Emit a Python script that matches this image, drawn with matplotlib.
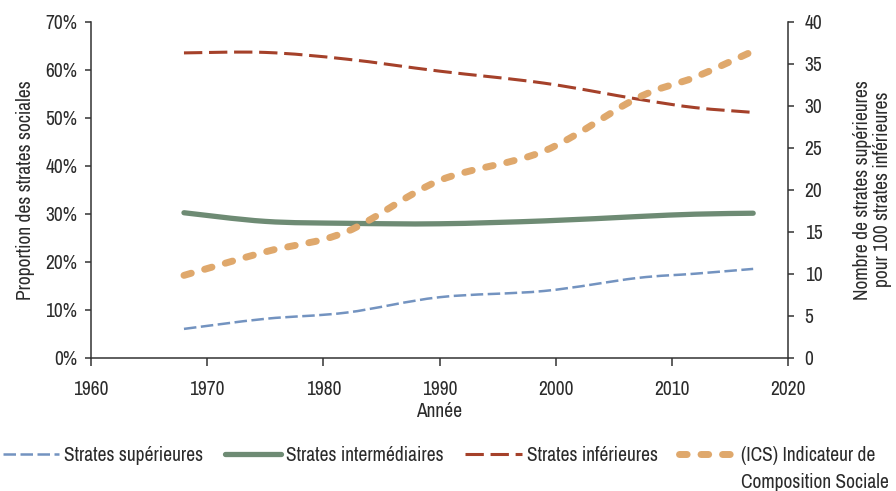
import matplotlib
matplotlib.use("Agg")
import matplotlib.pyplot as plt
from matplotlib.path import Path
from matplotlib.patches import PathPatch
from matplotlib.lines import Line2D
from matplotlib.ticker import FuncFormatter
from matplotlib import font_manager

# census years and shares
years = [1968, 1975, 1982, 1990, 1999, 2007, 2012, 2017]
sup = [6.0, 8.1, 9.4, 12.6, 13.9, 16.6, 17.5, 18.5]
inter = [30.2, 28.4, 28.0, 27.9, 28.5, 29.4, 29.9, 30.1]
inf = [63.5, 63.6, 62.2, 59.7, 57.2, 53.9, 52.1, 51.1]
ics = [9.8, 12.6, 15.0, 21.1, 24.6, 30.9, 33.4, 36.5]

labels = ["Strates supérieures", "Strates intermédiaires",
          "Strates inférieures", "(ICS) Indicateur de"]

# the reference uses a condensed face; take one if the system has it
names = {f.name for f in font_manager.fontManager.ttflist}
FONT = "DejaVu Sans"
for cand in ["Archivo Narrow", "Liberation Sans Narrow", "Roboto Condensed"]:
    if cand in names:
        FONT = cand
        break
plt.rcParams["font.family"] = [FONT, "DejaVu Sans"]
plt.rcParams["font.size"] = 14
TXT = "#2b2b2b"

BLUE = "#7393c0"
GREEN = "#6e8b74"
RED = "#a5412a"
ORANGE = "#dfa86c"


def smooth_path(x, y):
    # excel-like smoothed line: bezier segments through the data points
    n = len(x)
    verts = [(x[0], y[0])]
    codes = [Path.MOVETO]
    for i in range(n - 1):
        a = i - 1 if i > 0 else i
        b = i + 2 if i + 2 < n else i + 1
        c1 = (x[i] + (x[i + 1] - x[a]) / 6, y[i] + (y[i + 1] - y[a]) / 6)
        c2 = (x[i + 1] - (x[b] - x[i]) / 6, y[i + 1] - (y[b] - y[i]) / 6)
        verts += [c1, c2, (x[i + 1], y[i + 1])]
        codes += [Path.CURVE4] * 3
    return Path(verts, codes)


styles = [
    dict(color=BLUE, lw=1.8, ls=(0, (5.0, 1.8)), cap="butt"),
    dict(color=GREEN, lw=3.8, ls="-", cap="round"),
    dict(color=RED, lw=2.2, ls=(0, (6.0, 2.2)), cap="butt"),
    dict(color=ORANGE, lw=5.0, ls=(0, (1.1, 2.0)), cap="round"),
]

fig = plt.figure(figsize=(8.96, 4.91), dpi=100)
ax = fig.add_axes([0.1016, 0.2715, 0.7779, 0.6843])
ax2 = ax.twinx()

for axis, yv, st in [(ax, sup, styles[0]), (ax, inter, styles[1]),
                     (ax, inf, styles[2]), (ax2, ics, styles[3])]:
    patch = PathPatch(smooth_path(years, yv), fill=False, edgecolor=st["color"],
                      lw=st["lw"], linestyle=st["ls"], capstyle=st["cap"],
                      joinstyle="round")
    axis.add_patch(patch)

ax.set_xlim(1960, 2020)
ax.set_ylim(0, 70)
ax2.set_ylim(0, 40)
ax.set_xticks(range(1960, 2021, 10))
ax.set_yticks(range(0, 71, 10))
ax2.set_yticks(range(0, 41, 5))
ax.yaxis.set_major_formatter(FuncFormatter(lambda v, p: f"{v:.0f}%"))

for a in (ax, ax2):
    a.spines["top"].set_visible(False)
    for s in a.spines.values():
        s.set_color("#333333")
        s.set_linewidth(1.1)
ax.spines["right"].set_visible(False)
ax2.spines["left"].set_visible(False)
ax2.spines["bottom"].set_visible(False)

ax.tick_params(axis="y", length=4, width=1.1, color="#333333", pad=6, labelcolor=TXT)
ax.tick_params(axis="x", length=6, width=1.1, color="#333333", pad=10, labelcolor=TXT)
ax2.tick_params(axis="y", length=4, width=1.1, color="#333333", pad=8, labelcolor=TXT)

ax.set_xlabel("Année", color=TXT, labelpad=2)
ax.set_ylabel("Proportion des strates sociales", color=TXT, labelpad=7)
ax2.set_ylabel("Nombre de strates supérieures\npour 100 strates inférieures",
               color=TXT, labelpad=22, linespacing=1.05)

handles = []
for st in styles:
    h = Line2D([], [], color=st["color"], lw=st["lw"], linestyle=st["ls"],
               dash_capstyle=st["cap"], solid_capstyle=st["cap"])
    handles.append(h)

leg = fig.legend(handles, labels, loc="center", bbox_to_anchor=(0.49, 0.073),
                 ncol=4, frameon=False, handlelength=2.9, handletextpad=0.26,
                 columnspacing=1.1, borderaxespad=0, labelcolor=TXT)

# second line of the ICS label, under its first line
fig.canvas.draw()
bb = leg.get_texts()[-1].get_window_extent()
fig.text(bb.x0 / fig.bbox.width, (bb.y0 - 27) / fig.bbox.height,
         "Composition Sociale", color=TXT, ha="left", va="bottom")

fig.savefig("out.png", dpi=100)
